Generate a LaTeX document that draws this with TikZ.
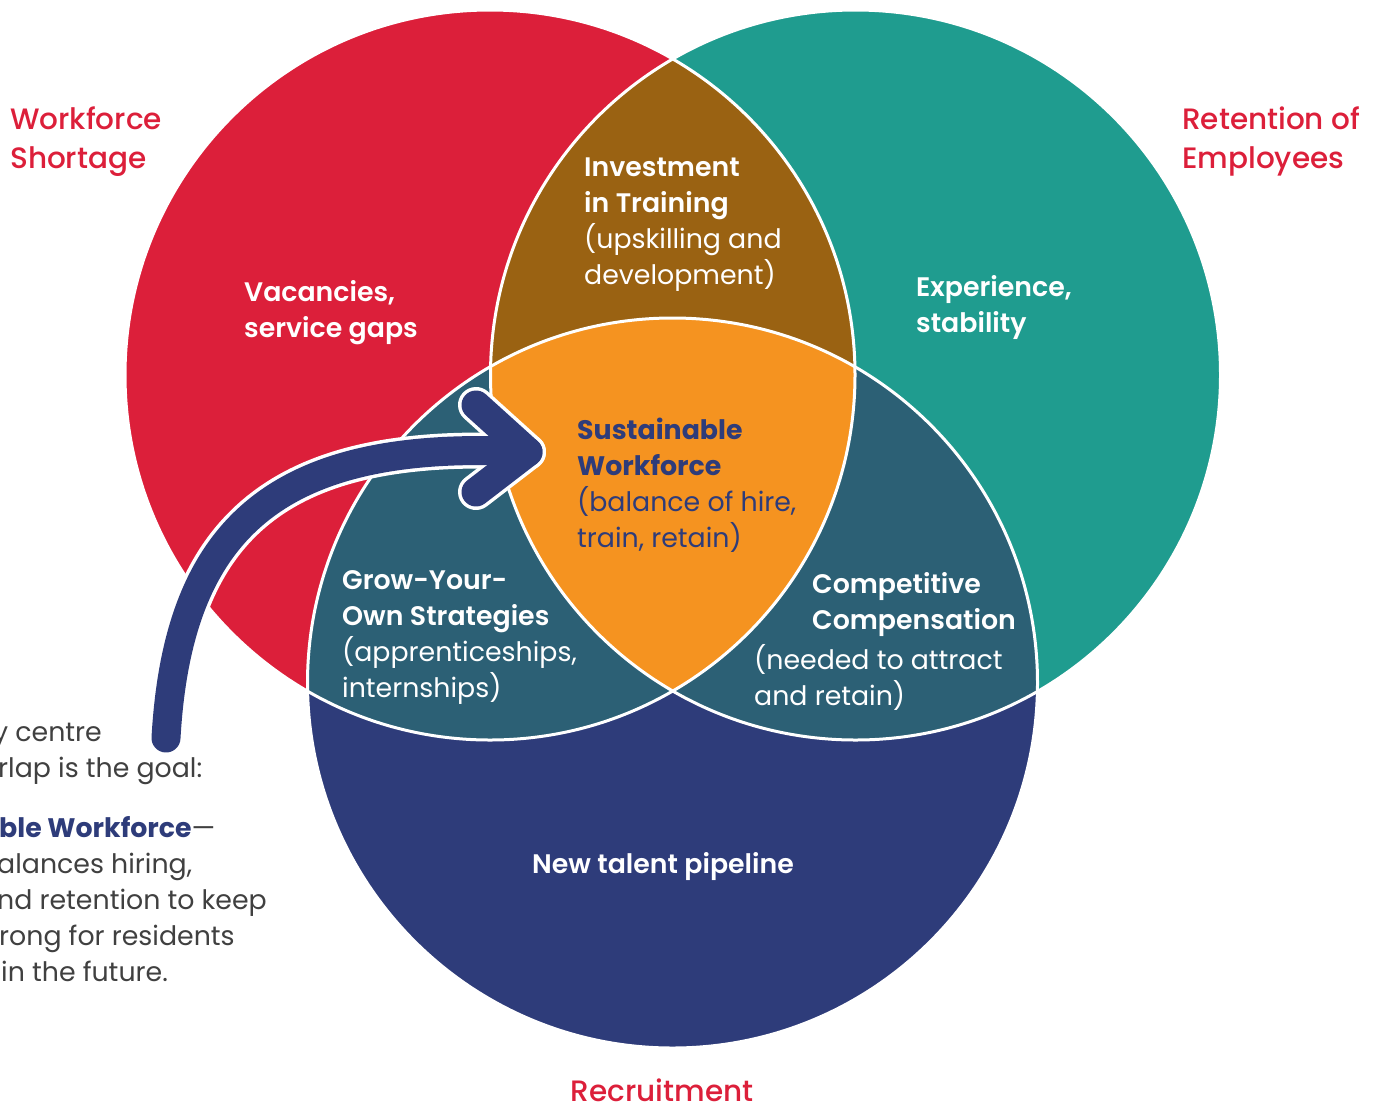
\documentclass[tikz,border=0pt]{standalone}
\usepackage{fontspec}
\setmainfont{Poppins}[BoldFont={* SemiBold}]
\newfontfamily\medfont{Poppins Medium}
\newfontfamily\heavyfont{Poppins Bold}
\definecolor{cred}{HTML}{DC1F3A}
\definecolor{cteal}{HTML}{1F9C8F}
\definecolor{cnavy}{HTML}{2E3C7A}
\definecolor{cbrown}{HTML}{9A6212}
\definecolor{corange}{HTML}{F59320}
\definecolor{cdteal}{HTML}{2C6075}
\definecolor{cgray}{HTML}{404040}
\begin{document}
\begin{tikzpicture}[x=1pt,y=-1pt,
  lbl/.style={anchor=north west, inner sep=0pt, align=left, font=\fontsize{26.8}{36}\selectfont},
  wlbl/.style={lbl, text=white},
  title/.style={lbl, text=cred, font=\fontsize{29.5}{39}\selectfont\medfont},
  ring/.style={draw=white, line width=3pt}]
\useasboundingbox (0,0) rectangle (1388,1109);
\clip (0,0) rectangle (1388,1109);
\coordinate (cr) at (490,375);
\coordinate (ct) at (855.5,375);
\coordinate (cb) at (672.5,683);
% base circles
\fill[cred] (cr) circle (365pt);
\fill[cteal] (ct) circle (365pt);
\fill[cnavy] (cb) circle (365pt);
% pairwise intersections
\begin{scope}
  \clip (cr) circle (365pt);
  \fill[cbrown] (ct) circle (365pt);
  \fill[cdteal] (cb) circle (365pt);
\end{scope}
\begin{scope}
  \clip (ct) circle (365pt);
  \fill[cdteal] (cb) circle (365pt);
  \clip (cr) circle (365pt);
  \fill[corange] (cb) circle (365pt);
\end{scope}
% white outlines
\draw[ring] (cr) circle (365pt);
\draw[ring] (ct) circle (365pt);
\draw[ring] (cb) circle (365pt);

% arrow
\coordinate (as) at (166,738);
\coordinate (tip) at (528,452);
\coordinate (au) at (476,405);
\coordinate (ad) at (476,492);
\draw[white, line width=36pt, line cap=round] (as) .. controls (178,525) and (280,438) .. (tip);
\draw[white, line width=36pt, line cap=round, line join=round] (au) -- (tip) -- (ad);
\draw[cnavy, line width=29pt, line cap=round] (as) .. controls (178,525) and (280,438) .. (tip);
\draw[cnavy, line width=29pt, line cap=round, line join=round] (au) -- (tip) -- (ad);

% titles
\node[title] (t1) at (10,103) {\rule{0pt}{26pt}Workforce\\Shortage};
\node[title] (t2) at (1182,103) {\rule{0pt}{26pt}Retention of\\Employees};
\node[title, anchor=north] (t3) at (662,1075) {\rule{0pt}{26pt}Recruitment};

% region labels
\node[wlbl] (l1) at (244,277) {\rule{0pt}{24pt}\bfseries Vacancies,\\\bfseries service gaps};
\node[wlbl] (l2) at (584,152) {\rule{0pt}{24pt}\bfseries Investment\\\bfseries in Training\\(upskilling and\\development)};
\node[wlbl] (l3) at (916,272) {\rule{0pt}{24pt}\bfseries Experience,\\\bfseries stability};
\node[lbl, text=cnavy] (l4) at (577,415) {\rule{0pt}{24pt}{\heavyfont Sustainable}\\{\heavyfont Workforce}\\(balance of hire,\\train, retain)};
\node[wlbl] (l5) at (342,565) {\rule{0pt}{24pt}\bfseries Grow-Your-\\\bfseries Own Strategies\\(apprenticeships,\\internships)};
\node[wlbl] (l6) at (812,569) {\rule{0pt}{24pt}\bfseries Competitive\\\bfseries Compensation};
\node[wlbl] (l7) at (754,644) {\rule{0pt}{24pt}(needed to attract\\and retain)};
\node[wlbl, anchor=north] (l8) at (663,849) {\rule{0pt}{24pt}\bfseries New talent pipeline};

% left note (clipped by page edge)
\node[lbl, text=cgray] (note) at (0,717) {\rule{0pt}{24pt}\hspace*{-7pt}y centre\\
\hspace*{-2pt}rlap is the goal:\\[24pt]
\hspace*{-1pt}{\color{cnavy}\heavyfont ble Workforce}—\\
\hspace*{-3pt}alances hiring,\\
\hspace*{-3pt}nd retention to keep\\
\hspace*{-1pt}rong for residents\\
\hspace*{1pt}in the future.};
\end{tikzpicture}
\end{document}
